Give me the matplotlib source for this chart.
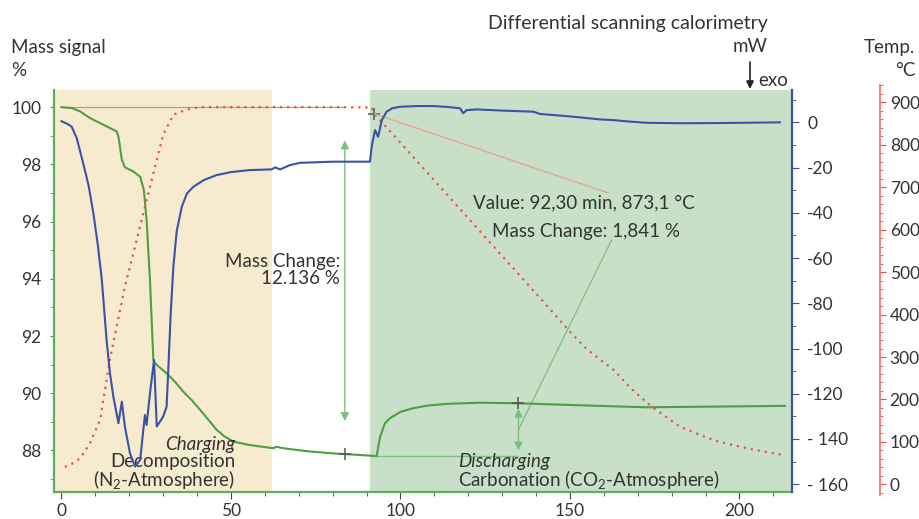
import matplotlib.pyplot as plt
from matplotlib.ticker import MultipleLocator, FixedLocator, FixedFormatter

# Mass signal (TG) in % over time in min
mass_time = [0, 3, 5.5, 8.4, 11.4, 14.3, 16.3, 16.8, 17.8, 18.7, 21.2, 23.2, 24.3,
             25.1, 26.1, 27.1, 27.6, 29.0, 31.0, 33.5, 35.9, 38.5, 40.9, 43.5, 45.8,
             48.0, 50.7, 55.6, 62.4, 63.5, 65.4, 72.0, 80.0, 92.5, 93.0, 93.4, 94.0,
             95.4, 96.9, 100.0, 103.8, 108.0, 113.6, 123.5, 134.8, 153.0, 172.6,
             213.4]
mass_signal = [100.0, 99.97, 99.85, 99.62, 99.44, 99.27, 99.15, 98.97, 98.16, 97.90,
               97.75, 97.57, 97.11, 96.06, 93.96, 91.16, 91.05, 90.90, 90.70, 90.40,
               90.06, 89.75, 89.42, 89.05, 88.72, 88.50, 88.31, 88.19, 88.08, 88.13,
               88.08, 87.98, 87.90, 87.81, 87.81, 88.10, 88.48, 88.95, 89.13, 89.35,
               89.48, 89.57, 89.63, 89.67, 89.65, 89.58, 89.51, 89.56]

# Differential scanning calorimetry in mW
dsc_time = [0, 1.5, 3, 4.5, 6.4, 8.0, 9.4, 10.7, 11.9, 13.3, 14.3, 15.3, 16.8, 17.8,
            18.7, 20.2, 21.7, 23.2, 24.6, 25.1, 26.1, 27.3, 28.1, 30.0, 31.0, 31.5,
            32.2, 33.0, 34.0, 35.5, 37.0, 38.9, 42.0, 45.8, 50.0, 55.6, 62.0, 63.0,
            64.5, 67.4, 70.4, 80.2, 91.0, 91.5, 92.5, 93.4, 94.5, 95.9, 97.5, 99.9,
            105.0, 109.7, 114.0, 117.6, 118.5, 119.5, 122.5, 130.0, 139.2, 141.2,
            147.0, 152.9, 158.8, 162.8, 167.0, 172.6, 182.4, 195.0, 211.9]
dsc_signal = [0.5, -0.5, -1.9, -7.0, -18.1, -28.0, -40.2, -54.0, -69.7, -96.2, -110.9,
              -121.3, -133.0, -123.5, -134.5, -146.3, -152.2, -149.3, -129.4, -133.8,
              -119.8, -105.1, -134.5, -130.1, -125.7, -109.5, -85.0, -63.8, -48.0,
              -37.3, -31.5, -28.5, -25.5, -23.3, -22.0, -21.1, -20.8, -19.9, -20.8,
              -18.9, -17.9, -17.4, -17.4, -10.8, -3.4, -6.4, 1.0, 4.7, 6.2, 6.9, 7.2,
              7.2, 6.8, 6.2, 4.0, 5.4, 5.7, 5.2, 4.7, 3.7, 3.0, 2.2, 1.3, 1.0, 0.4,
              -0.2, -0.4, -0.3, 0.0]

# Furnace temperature in deg C
temp_time = [1, 3, 5.5, 8.4, 11.4, 14.3, 18.7, 23.2, 27.1, 30.0, 33.0, 36.9, 40.9,
             60, 80, 91.5, 92.3, 100, 110, 120, 130, 141.2, 149.5, 155.0, 162.8,
             168.0, 174.1, 182.4, 192.3, 202.1, 212.9]
temp_value = [41, 48, 61, 97, 152, 295, 466, 608, 733, 824, 871, 883, 889, 889, 889,
              888, 873.1, 805, 716, 627, 538, 439, 364, 318, 270, 226, 183, 136, 104,
              85, 69]

# Atmosphere phases (min)
charging_phase = (-2.2, 62.0)
discharging_phase = (91.0, 215.5)

# Evaluated steps
step1_time, step1_from, step1_to = 83.6, 100.0, 87.864
step2_time, step2_from, step2_to = 134.8, 87.81, 89.651
marker_time, marker_temp = 92.30, 873.1

dsc_ticks = [-160, -140, -120, -100, -80, -60, -40, -20, 0]
dsc_tick_labels = ["- 160", "- 140", "-120", "-100", "-80", "-60", "-40", "-20", "0"]

GREEN = "#4f9d45"
LIGHT_GREEN = "#7cbf7c"
BLUE = "#3a52a8"
RED = "#e8544a"
TEXT = "#333333"
FS = 13.5

plt.rcParams["font.family"] = ["Lato", "DejaVu Sans"]
plt.rcParams["mathtext.fontset"] = "custom"
plt.rcParams["mathtext.rm"] = "Lato"
plt.rcParams["mathtext.default"] = "regular"


def px(x, y):
    """Figure fraction from pixel position measured from the top left."""
    return x / 919, 1 - y / 519


fig = plt.figure(figsize=(9.19, 5.19), dpi=100)

ax = fig.add_axes([0.0588, 0.0526, 0.803, 0.774])
ax_dsc = ax.twinx()
ax_temp = fig.add_axes([0.0588, 0.0462, 0.803, 0.790], sharex=ax)

ax.set_zorder(1)
ax_temp.set_zorder(2)
ax_dsc.set_zorder(3)
for a in (ax_dsc, ax_temp):
    a.patch.set_visible(False)

# Phase backgrounds
ax.axvspan(*charging_phase, color="#f7ebcf", lw=0, zorder=0)
ax.axvspan(*discharging_phase, color="#c8dfc8", lw=0, zorder=0)

# Mass signal
ax.plot(mass_time, mass_signal, color=GREEN, lw=1.5, zorder=3)

# Step evaluation: reference lines, arrows and markers
ax.hlines(step1_from, 0, step1_time, color=LIGHT_GREEN, lw=0.9, zorder=2)
ax.hlines(step2_from, discharging_phase[0], step2_time, color=LIGHT_GREEN, lw=0.9, zorder=2)
ax.annotate("", xy=(step1_time, step1_to), xytext=(step1_time, step1_from),
            arrowprops=dict(arrowstyle="<|-|>", color=LIGHT_GREEN, lw=1.0,
                            mutation_scale=12, shrinkA=24, shrinkB=24), zorder=2)
ax.annotate("", xy=(step2_time, step2_from), xytext=(step2_time, step2_to),
            arrowprops=dict(arrowstyle="<|-|>", color=LIGHT_GREEN, lw=1.0,
                            mutation_scale=12, shrinkA=4, shrinkB=4), zorder=2)
ax.plot([step1_time, step2_time], [step1_to, step2_to], "+", color="#555555",
        ms=9, mew=1.1, zorder=4)
ax.plot([162.3, step2_time], [95.36, (step2_from + step2_to) / 2],
        color=LIGHT_GREEN, lw=0.9, zorder=2)

ax.set_xlim(-2.2, 215.5)
ax.set_ylim(86.56, 100.6)
ax.xaxis.set_major_locator(MultipleLocator(50))
ax.xaxis.set_minor_locator(MultipleLocator(10))
ax.yaxis.set_major_locator(MultipleLocator(2))
ax.yaxis.set_minor_locator(MultipleLocator(1))
ax.tick_params(axis="x", which="major", length=5, color="#444444", labelsize=12.5,
               labelcolor=TEXT, pad=3)
ax.tick_params(axis="x", which="minor", length=3, color="#444444")
ax.tick_params(axis="y", which="both", length=3, color=GREEN, labelsize=12.5,
               labelcolor=TEXT, pad=6)
for side in ("top", "right"):
    ax.spines[side].set_visible(False)
ax.spines["left"].set_color("#5fae5f")
ax.spines["left"].set_linewidth(1.6)
ax.spines["bottom"].set_color("#5fae5f")
ax.spines["bottom"].set_linewidth(1.6)

# DSC curve
ax_dsc.plot(dsc_time, dsc_signal, color=BLUE, lw=1.5)
ax_dsc.set_ylim(-163.3, 14.3)
ax_dsc.yaxis.set_major_locator(FixedLocator(dsc_ticks))
ax_dsc.yaxis.set_major_formatter(FixedFormatter(dsc_tick_labels))
ax_dsc.yaxis.set_minor_locator(MultipleLocator(10))
ax_dsc.tick_params(axis="y", which="major", length=5, color=BLUE, labelsize=12.5,
                   labelcolor=TEXT, pad=6)
ax_dsc.tick_params(axis="y", which="minor", length=3, color=BLUE)
for side in ("top", "left", "bottom"):
    ax_dsc.spines[side].set_visible(False)
ax_dsc.spines["right"].set_color(BLUE)
ax_dsc.spines["right"].set_linewidth(1.6)

# Temperature curve
ax_temp.plot(temp_time, temp_value, color=RED, lw=1.6, ls=(0, (1, 2.2)))
ax_temp.plot(marker_time, marker_temp, "+", color="#555555", ms=9, mew=1.1)
ax_temp.plot([marker_time, 161.3], [marker_temp, 686.7], color="#e8a592", lw=1.0)
ax_temp.set_ylim(-25.2, 941)
ax_temp.yaxis.set_major_locator(MultipleLocator(100))
ax_temp.yaxis.set_minor_locator(MultipleLocator(20))
ax_temp.yaxis.tick_right()
ax_temp.tick_params(axis="y", which="major", length=4, color=RED, labelsize=12.5,
                    labelcolor=TEXT, pad=3)
ax_temp.tick_params(axis="y", which="minor", length=2, color=RED)
ax_temp.xaxis.set_visible(False)
for side in ("top", "left", "bottom"):
    ax_temp.spines[side].set_visible(False)
ax_temp.spines["right"].set_position(("axes", 1.1192))
ax_temp.spines["right"].set_color("#ee6a6a")
ax_temp.spines["right"].set_linewidth(1.2)

# Annotations in the plot area
ax.text(82.2, 94.3, "Mass Change:\n12.136 %", ha="right", va="center",
        fontsize=FS, color=TEXT, linespacing=1.0, zorder=5)
ax.text(154.2, 96.65, "Value: 92,30 min, 873,1 \u00b0C", ha="center", va="center",
        fontsize=FS, color=TEXT, zorder=5)
ax.text(154.7, 95.64, "Mass Change: 1,841 %", ha="center", va="center",
        fontsize=FS, color=TEXT, zorder=5)
ax.text(51.2, 88.21, "Charging", ha="right", va="center", fontsize=FS,
        style="italic", color=TEXT, zorder=5)
ax.text(51.2, 87.62, "Decomposition", ha="right", va="center", fontsize=FS,
        color=TEXT, zorder=5)
ax.text(51.2, 86.99, "(N$_2$-Atmosphere)", ha="right", va="center", fontsize=FS,
        color=TEXT, zorder=5)
ax.text(117.0, 87.62, "Discharging", ha="left", va="center", fontsize=FS,
        style="italic", color=TEXT, zorder=5)
ax.text(117.0, 86.99, "Carbonation (CO$_2$-Atmosphere)", ha="left", va="center",
        fontsize=FS, color=TEXT, zorder=5)

# Axis titles
fig.text(*px(11, 48), "Mass signal", ha="left", va="center", fontsize=FS, color=TEXT)
fig.text(*px(11, 70), "%", ha="left", va="center", fontsize=FS, color=TEXT)
fig.text(*px(768, 23), "Differential scanning calorimetry", ha="right", va="center",
         fontsize=14, color=TEXT)
fig.text(*px(768, 47), "mW", ha="right", va="center", fontsize=FS, color=TEXT)
fig.text(*px(758, 81), "exo", ha="left", va="center", fontsize=FS, color=TEXT)
fig.text(*px(915, 48), "Temp.", ha="right", va="center", fontsize=FS, color=TEXT)
fig.text(*px(915, 70), "\u00b0C", ha="right", va="center", fontsize=FS, color=TEXT)
ax.annotate("", xy=px(750, 89), xytext=px(750, 62), xycoords="figure fraction",
            textcoords="figure fraction",
            arrowprops=dict(arrowstyle="-|>", color="#222222", lw=1.2,
                            mutation_scale=11, shrinkA=0, shrinkB=0))

fig.savefig("out.png", dpi=100)
